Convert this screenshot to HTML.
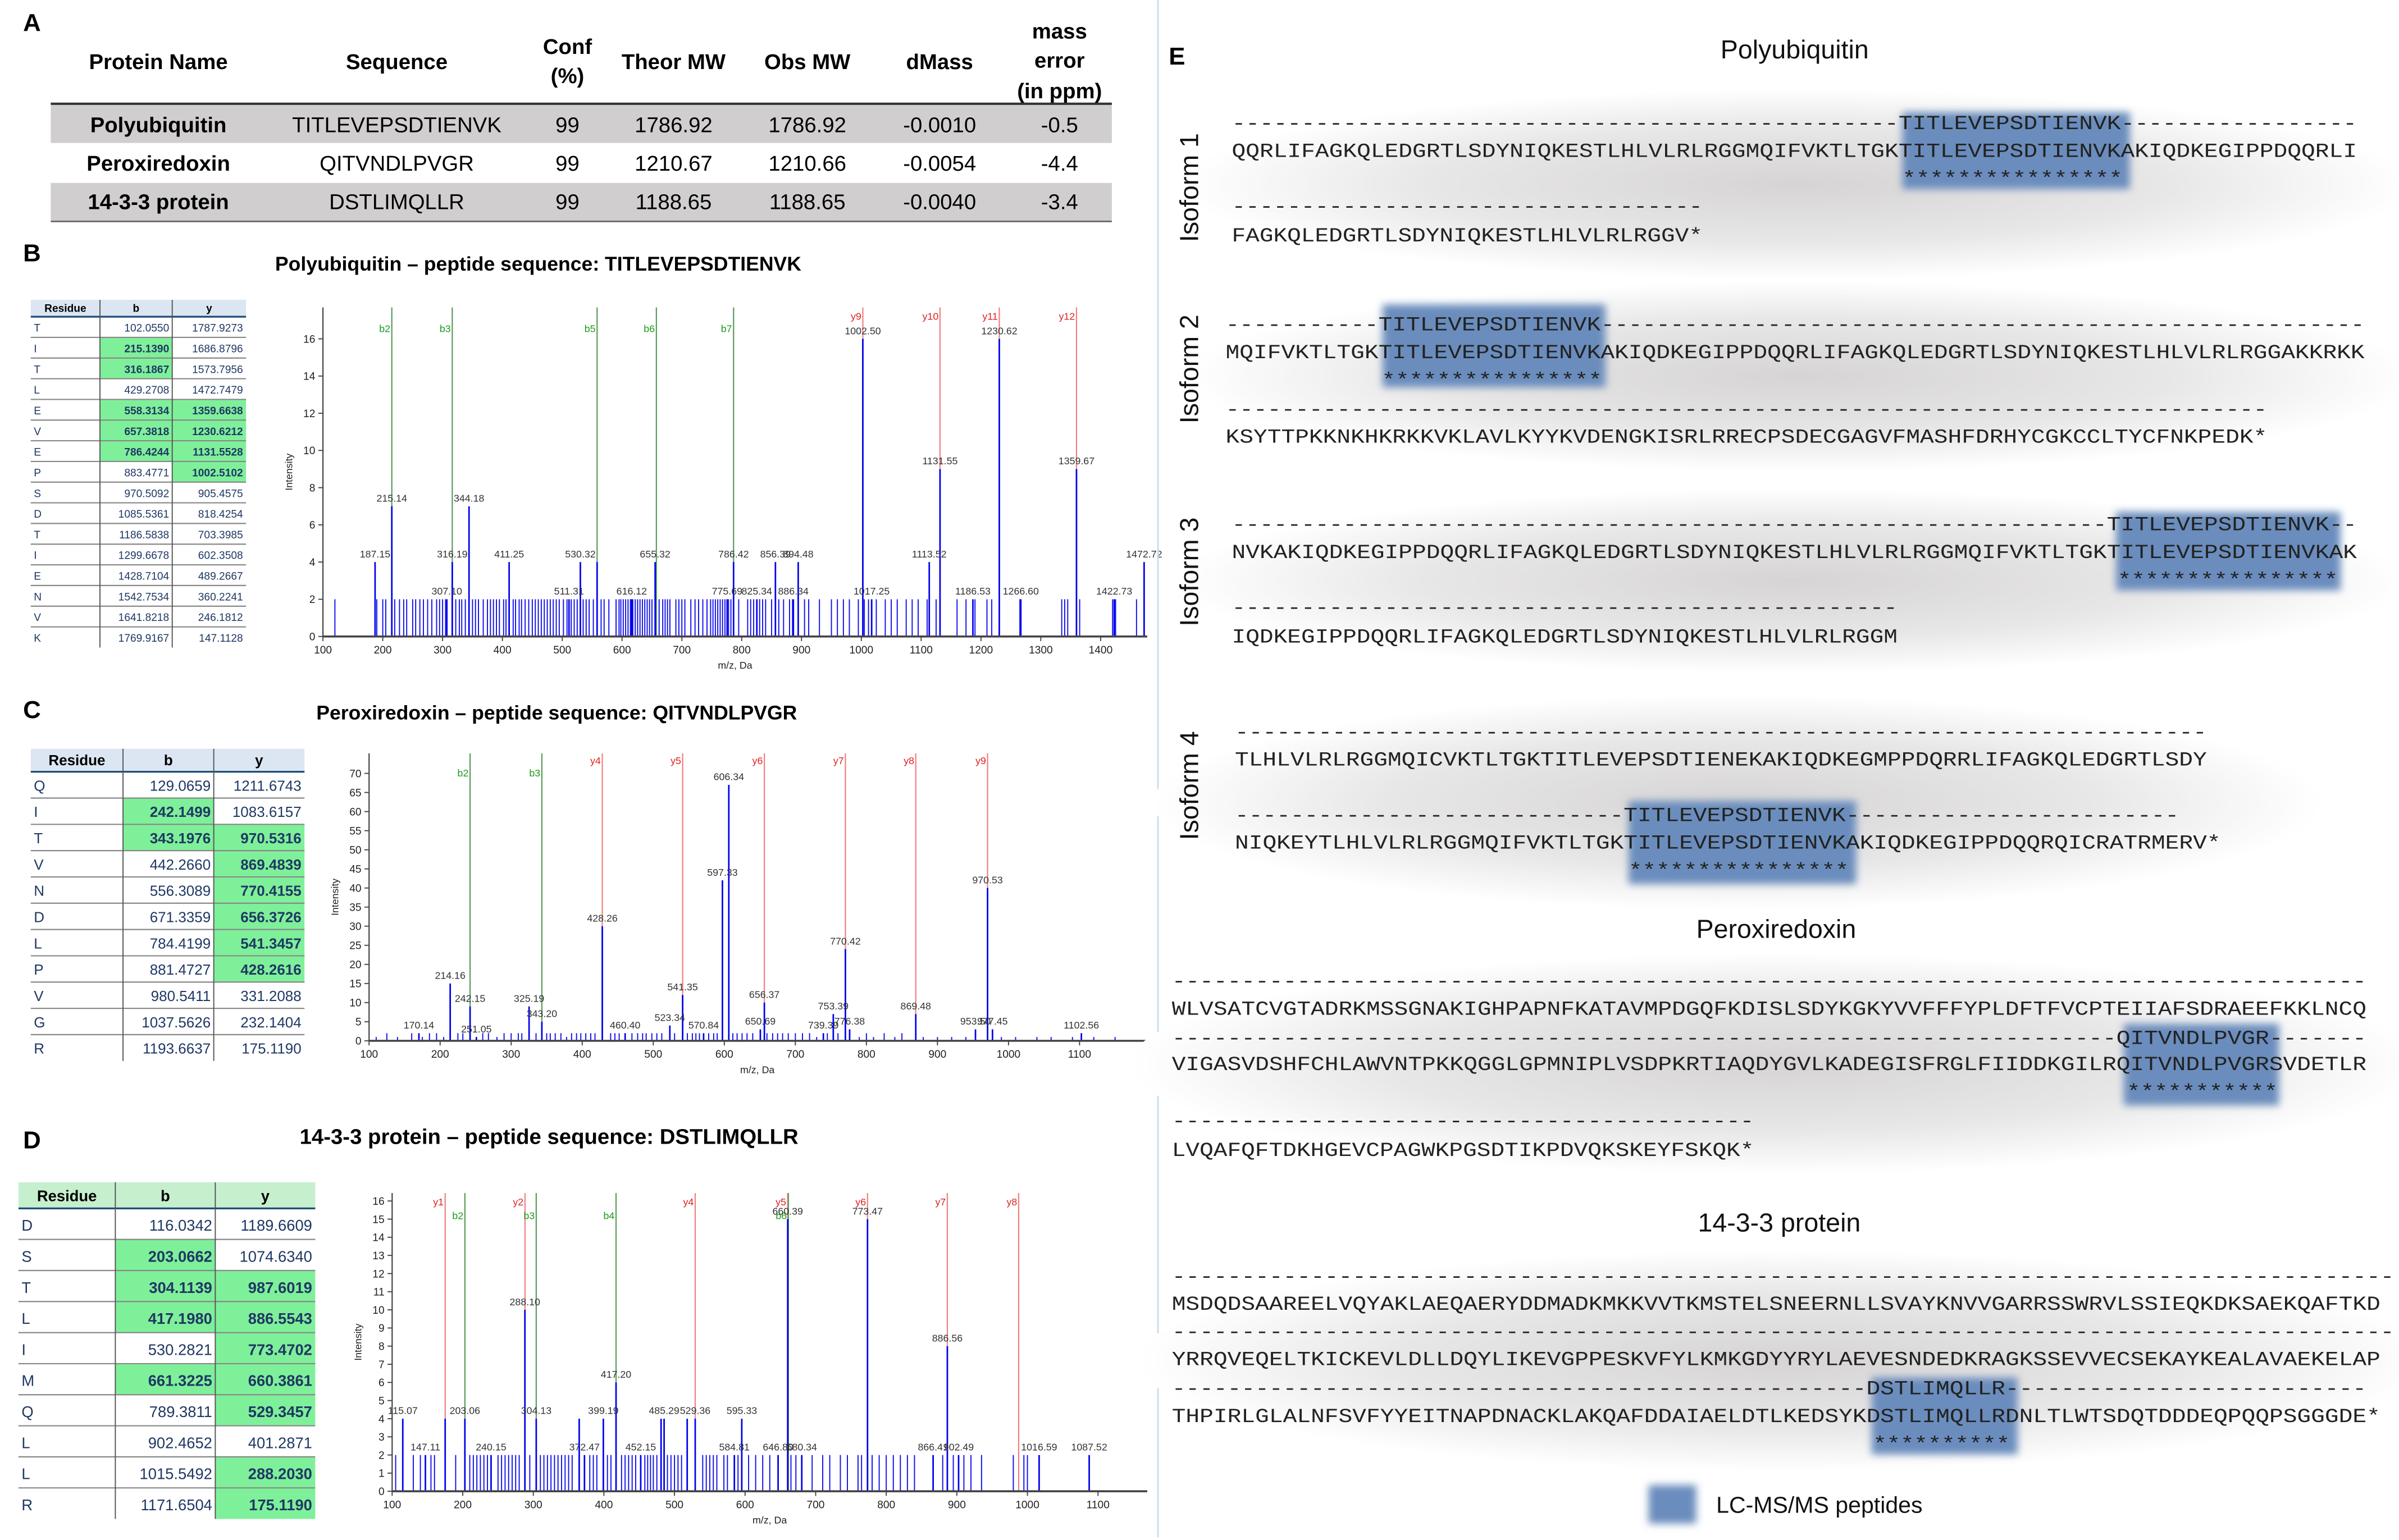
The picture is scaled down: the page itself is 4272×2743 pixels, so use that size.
<!DOCTYPE html>
<html><head><meta charset="utf-8"><style>
html,body{margin:0;padding:0;background:#fff;width:4272px;height:2743px;overflow:hidden}
svg{display:block}
.sans{font-family:"Liberation Sans",sans-serif}
.mono{font-family:"Liberation Mono",monospace;font-size:13px;fill:#222}
.tb{font-family:"Liberation Sans",sans-serif;fill:#1f3864}
</style></head><body>
<svg id="fig" width="4272" height="2743" viewBox="0 0 1560 1001.7" preserveAspectRatio="none" xmlns="http://www.w3.org/2000/svg">
<defs>
<radialGradient id="band" cx="0.5" cy="0.5" r="0.5"><stop offset="0" stop-color="#d6d4d4"/><stop offset="0.6" stop-color="#e8e7e7"/><stop offset="1" stop-color="#ffffff"/></radialGradient>
<filter id="blur" x="-20%" y="-20%" width="140%" height="140%"><feGaussianBlur stdDeviation="2.5"/></filter>
</defs>
<rect width="1560" height="1002" fill="#fff"/>

<g class="sans" font-size="14" text-anchor="middle">
<text x="15" y="20" font-weight="bold" font-size="16" text-anchor="start">A</text>
<g font-weight="bold">
<text x="103" y="45">Protein Name</text><text x="258" y="45">Sequence</text>
<text x="369" y="35">Conf</text><text x="369" y="54">(%)</text>
<text x="438" y="45">Theor MW</text><text x="525" y="45">Obs MW</text><text x="611" y="45">dMass</text>
<text x="689" y="25">mass</text><text x="689" y="44">error</text><text x="689" y="64">(in ppm)</text>
</g>
<rect x="33" y="68" width="690" height="25" fill="#d0cece"/>
<rect x="33" y="119" width="690" height="25" fill="#d0cece"/>
<line x1="33" y1="67.5" x2="723" y2="67.5" stroke="#333" stroke-width="1.5"/>
<line x1="33" y1="144" x2="723" y2="144" stroke="#666" stroke-width="1"/>
<g><text x="103" y="86" font-weight="bold">Polyubiquitin</text><text x="258" y="86">TITLEVEPSDTIENVK</text><text x="369" y="86">99</text><text x="438" y="86">1786.92</text><text x="525" y="86">1786.92</text><text x="611" y="86">-0.0010</text><text x="689" y="86">-0.5</text></g>
<g><text x="103" y="111" font-weight="bold">Peroxiredoxin</text><text x="258" y="111">QITVNDLPVGR</text><text x="369" y="111">99</text><text x="438" y="111">1210.67</text><text x="525" y="111">1210.66</text><text x="611" y="111">-0.0054</text><text x="689" y="111">-4.4</text></g>
<g><text x="103" y="136" font-weight="bold">14-3-3 protein</text><text x="258" y="136">DSTLIMQLLR</text><text x="369" y="136">99</text><text x="438" y="136">1188.65</text><text x="525" y="136">1188.65</text><text x="611" y="136">-0.0040</text><text x="689" y="136">-3.4</text></g>
</g>

<g class="sans" font-weight="bold">
<text x="15" y="170" font-size="16">B</text>
<text x="350" y="176" font-size="13" text-anchor="middle">Polyubiquitin – peptide sequence: TITLEVEPSDTIENVK</text>
<text x="15" y="467" font-size="16">C</text>
<text x="362" y="468" font-size="13" text-anchor="middle">Peroxiredoxin – peptide sequence: QITVNDLPVGR</text>
<text x="15" y="747" font-size="16">D</text>
<text x="357" y="744" font-size="14" text-anchor="middle">14-3-3 protein – peptide sequence: DSTLIMQLLR</text>
<text x="760" y="42" font-size="16">E</text>
</g>

<g id="tables"></g>
<g id="charts"></g>

<line x1="753" y1="0" x2="753" y2="1000" stroke="#c5dcef" stroke-width="1"/>

<g id="panelE">
<g>
<ellipse cx="1168" cy="120" rx="400" ry="62" fill="url(#band)"/>
<ellipse cx="1170" cy="245" rx="400" ry="62" fill="url(#band)"/>
<ellipse cx="1165" cy="378" rx="400" ry="60" fill="url(#band)"/>
<ellipse cx="1130" cy="522" rx="380" ry="70" fill="url(#band)"/>
<ellipse cx="1155" cy="692" rx="420" ry="72" fill="url(#band)"/>
<ellipse cx="1160" cy="885" rx="420" ry="72" fill="url(#band)"/>
</g>
<g filter="url(#blur)" fill="#6b8dbd">
<rect x="1237" y="73" width="148" height="50"/>
<rect x="899" y="198" width="145" height="54"/>
<rect x="1376" y="333" width="146" height="51"/>
<rect x="1059" y="521" width="148" height="54"/>
<rect x="1381" y="666" width="101" height="53"/>
<rect x="1217" y="896" width="95" height="50"/>
<rect x="1072" y="966" width="31" height="25"/>
</g>
<g class="sans" font-size="17" text-anchor="middle" fill="#111">
<text x="1167" y="38">Polyubiquitin</text>
<text x="1155" y="610">Peroxiredoxin</text>
<text x="1157" y="801">14-3-3 protein</text>
<text transform="translate(779,122) rotate(-90)">Isoform 1</text>
<text transform="translate(779,240) rotate(-90)">Isoform 2</text>
<text transform="translate(779,372) rotate(-90)">Isoform 3</text>
<text transform="translate(779,511) rotate(-90)">Isoform 4</text>
<text x="1116" y="984" font-size="15" text-anchor="start">LC-MS/MS peptides</text>
</g>
<g class="mono" id="seqs">
<text x="801" y="84" data-d1="48" data-d2="17">TITLEVEPSDTIENVK</text>
<text x="801" y="102">QQRLIFAGKQLEDGRTLSDYNIQKESTLHLVLRLRGGMQIFVKTLTGKTITLEVEPSDTIENVKAKIQDKEGIPPDQQRLI</text>
<text x="1237" y="120">****************</text>
<text x="801" y="138" data-d1="34">&#8203;</text>
<text x="801" y="157">FAGKQLEDGRTLSDYNIQKESTLHLVLRLRGGV*</text>
<text x="797" y="215" data-d1="11" data-d2="55">TITLEVEPSDTIENVK</text>
<text x="797" y="233">MQIFVKTLTGKTITLEVEPSDTIENVKAKIQDKEGIPPDQQRLIFAGKQLEDGRTLSDYNIQKESTLHLVLRLRGGAKKRKK</text>
<text x="898.5" y="251">****************</text>
<text x="797" y="270" data-d1="75">&#8203;</text>
<text x="797" y="288">KSYTTPKKNKHKRKKVKLAVLKYYKVDENGKISRLRRECPSDECGAGVFMASHFDRHYCGKCCLTYCFNKPEDK*</text>
<text x="801" y="345" data-d1="63" data-d2="2">TITLEVEPSDTIENVK</text>
<text x="801" y="363">NVKAKIQDKEGIPPDQQRLIFAGKQLEDGRTLSDYNIQKESTLHLVLRLRGGMQIFVKTLTGKTITLEVEPSDTIENVKAK</text>
<text x="1377" y="381">****************</text>
<text x="801" y="399" data-d1="48">&#8203;</text>
<text x="801" y="418">IQDKEGIPPDQQRLIFAGKQLEDGRTLSDYNIQKESTLHLVLRLRGGM</text>
<text x="803" y="480" data-d1="70">&#8203;</text>
<text x="803" y="498">TLHLVLRLRGGMQICVKTLTGKTITLEVEPSDTIENEKAKIQDKEGMPPDQRRLIFAGKQLEDGRTLSDY</text>
<text x="803" y="534" data-d1="28" data-d2="24">TITLEVEPSDTIENVK</text>
<text x="803" y="552">NIQKEYTLHLVLRLRGGMQIFVKTLTGKTITLEVEPSDTIENVKAKIQDKEGIPPDQQRQICRATRMERV*</text>
<text x="1059" y="570">****************</text>
<text x="762" y="642" data-d1="86">&#8203;</text>
<text x="762" y="660">WLVSATCVGTADRKMSSGNAKIGHPAPNFKATAVMPDGQFKDISLSDYKGKYVVFFFYPLDFTFVCPTEIIAFSDRAEEFKKLNCQ</text>
<text x="762" y="679" data-d1="68" data-d2="7">QITVNDLPVGR</text>
<text x="762" y="696">VIGASVDSHFCHLAWVNTPKKQGGLGPMNIPLVSDPKRTIAQDYGVLKADEGISFRGLFIIDDKGILRQITVNDLPVGRSVDETLR</text>
<text x="1383" y="714">***********</text>
<text x="762" y="733" data-d1="42">&#8203;</text>
<text x="762" y="752">LVQAFQFTDKHGEVCPAGWKPGSDTIKPDVQKSKEYFSKQK*</text>
<text x="762" y="834" data-d1="88">&#8203;</text>
<text x="762" y="852">MSDQDSAAREELVQYAKLAEQAERYDDMADKMKKVVTKMSTELSNEERNLLSVAYKNVVGARRSSWRVLSSIEQKDKSAEKQAFTKD</text>
<text x="762" y="870" data-d1="88">&#8203;</text>
<text x="762" y="888">YRRQVEQELTKICKEVLDLLDQYLIKEVGPPESKVFYLKMKGDYYRYLAEVESNDEDKRAGKSSEVVECSEKAYKEALAVAEKELAP</text>
<text x="762" y="907" data-d1="50" data-d2="26">DSTLIMQLLR</text>
<text x="762" y="925">THPIRLGLALNFSVFYYEITNAPDNACKLAKQAFDDAIAELDTLKEDSYKDSTLIMQLLRDNLTLWTSDQTDDDEQPQQPSGGGDE*</text>
<text x="1218" y="943">**********</text>
</g>
</g>
</svg>

<script>
var bPeakMz  = [1002.50,1230.62,1131.55,1359.67,215.14,344.18,187.15,316.19,411.25,530.32,558.3,655.32,786.42,856.39,894.48,1113.52,1472.72,307.10,511.31,616.12,775.69,825.34,886.34,1017.25,1186.53,1266.60,1422.73];
var bPeakInt = [16,16,9,9,7,7,4,4,4,4,4,4,4,4,4,4,4,2,2,2,2,2,2,2,2,2,2];
var bLabeled = [1,1,1,1,1,1,1,1,1,1,0,1,1,1,1,1,1,1,1,1,1,1,1,1,1,1,1];
var bNoiseMz = [120,190,200,205,220,228,235,240,250,255,262,268,275,282,290,295,300,305,322,328,332,338,350,355,360,368,375,380,385,390,395,402,406,418,422,428,432,438,444,450,455,460,465,470,475,480,485,490,495,502,508,515,520,525,535,540,545,552,565,570,578,590,595,598,602,606,610,614,618,622,626,630,634,638,642,646,650,662,668,672,676,680,690,695,700,705,715,722,728,735,742,748,752,756,760,764,768,772,778,782,795,810,815,820,830,835,840,850,862,870,880,885,905,912,930,950,960,970,980,995,1005,1012,1025,1040,1050,1060,1075,1085,1095,1110,1125,1160,1175,1190,1210,1218,1265,1335,1340,1345,1365,1420,1425,1460];
var bNoiseInt = 2;
var bIonName = ["b2","b3","b5","b6","b7","y9","y10","y11","y12"];
var bIonMz   = [215.14,316.19,558.31,657.38,786.42,1002.51,1131.55,1230.62,1359.66];
var bXTicks  = [100,200,300,400,500,600,700,800,900,1000,1100,1200,1300,1400];
var bYTicks  = [0,2,4,6,8,10,12,14,16];

var cPeakMz  = [606.34,597.33,970.53,428.26,770.42,214.16,242.15,325.19,343.20,541.35,656.37,753.39,869.48,523.34,570.84,460.40,170.14,251.05,650.69,739.39,776.38,953.50,977.45,1102.56];
var cPeakInt = [67,42,40,30,24,15,9,9,5,12,10,7,7,4,2,2,2,1,3,2,3,3,3,2];
var cNoiseMz = [110,125,140,160,175,185,195,205,225,232,260,268,280,290,300,310,315,335,350,355,362,370,378,385,392,398,405,412,418,440,446,452,470,478,485,490,498,505,512,530,548,555,560,565,578,585,590,612,618,625,632,640,660,668,675,682,690,700,710,720,730,745,760,790,800,810,825,840,850,880,900,920,940,990,1010,1040,1060,1090,1120,1150];
var cNoiseInt= [1,2,1,2,1,2,2,1,2,2,2,2,1,2,2,2,2,2,2,2,2,2,1,2,2,2,2,2,2,2,2,2,2,2,2,2,2,2,2,2,2,2,2,2,2,2,2,2,2,2,2,2,2,2,2,2,2,2,2,2,1,2,2,1,2,1,2,1,2,1,1,1,1,1,1,1,1,1,1,1];
var cIonName = ["b2","b3","y4","y5","y6","y7","y8","y9"];
var cIonMz   = [242.15,343.20,428.26,541.35,656.37,770.42,869.48,970.53];
var cXTicks  = [100,200,300,400,500,600,700,800,900,1000,1100];
var cYTicks  = [0,5,10,15,20,25,30,35,40,45,50,55,60,65,70];

var dPeakMz  = [660.39,773.47,288.10,886.56,417.20,485.29,529.36,595.33,399.19,304.13,372.47,115.07,203.06,147.11,240.15,452.15,584.81,646.80,680.34,866.41,902.49,1016.59,1087.52,175.12,518.0,481.0,365.0];
var dPeakInt = [15,15,10,8,6,4,4,4,4,4,2,4,4,2,2,2,2,2,2,2,2,2,2,4,4,4,4];
var dLabeled = [1,1,1,1,1,1,1,1,1,1,1,1,1,1,1,1,1,1,1,1,1,1,1,0,0,0,0];
var dNoiseMz = [105,130,140,155,160,190,210,215,220,225,230,235,250,255,260,265,270,275,280,295,310,315,320,325,330,335,340,345,350,355,380,385,390,405,410,425,430,435,440,445,458,462,466,470,475,490,495,500,505,510,540,545,550,555,560,570,575,590,605,615,625,635,665,672,695,710,720,735,745,760,765,780,790,800,810,820,830,840,880,895,910,920,935,980,995,1000];
var dNoiseInt = 2;
var dIonName = ["y1","b2","y2","b3","b4","y4","y5","b6","y6","y7","y8"];
var dIonMz   = [175.12,203.06,288.20,304.11,417.20,529.35,660.39,661.32,773.47,886.55,987.60];
var dXTicks  = [100,200,300,400,500,600,700,800,900,1000,1100];
var dYTicks  = [0,1,2,3,4,5,6,7,8,9,10,11,12,13,14,15,16];

var tbRes = ["T","I","T","L","E","V","E","P","S","D","T","I","E","N","V","K"];
var tbB = ["102.0550","215.1390","316.1867","429.2708","558.3134","657.3818","786.4244","883.4771","970.5092","1085.5361","1186.5838","1299.6678","1428.7104","1542.7534","1641.8218","1769.9167"];
var tbY = ["1787.9273","1686.8796","1573.7956","1472.7479","1359.6638","1230.6212","1131.5528","1002.5102","905.4575","818.4254","703.3985","602.3508","489.2667","360.2241","246.1812","147.1128"];
var tbBg = [0,1,1,0,1,1,1,0,0,0,0,0,0,0,0,0];
var tbYg = [0,0,0,0,1,1,1,1,0,0,0,0,0,0,0,0];
var tcRes = ["Q","I","T","V","N","D","L","P","V","G","R"];
var tcB = ["129.0659","242.1499","343.1976","442.2660","556.3089","671.3359","784.4199","881.4727","980.5411","1037.5626","1193.6637"];
var tcY = ["1211.6743","1083.6157","970.5316","869.4839","770.4155","656.3726","541.3457","428.2616","331.2088","232.1404","175.1190"];
var tcBg = [0,1,1,0,0,0,0,0,0,0,0];
var tcYg = [0,0,1,1,1,1,1,1,0,0,0];
var tdRes = ["D","S","T","L","I","M","Q","L","L","R"];
var tdB = ["116.0342","203.0662","304.1139","417.1980","530.2821","661.3225","789.3811","902.4652","1015.5492","1171.6504"];
var tdY = ["1189.6609","1074.6340","987.6019","886.5543","773.4702","660.3861","529.3457","401.2871","288.2030","175.1190"];
var tdBg = [0,1,1,1,0,1,0,0,0,0];
var tdYg = [0,0,1,1,1,1,1,0,1,1];

var NS = "http://www.w3.org/2000/svg";
function mk(tag, attrs, parent){ var e=document.createElementNS(NS,tag); for(var k in attrs) e.setAttribute(k,attrs[k]); parent.appendChild(e); return e; }

function drawTable(res,bv,yv,bg,yg,x0,cw,y0,hh,rh,fs,name,hdrFill){
  var g=mk("g",{},document.getElementById("tables"));
  
  
  var W=cw[0]+cw[1]+cw[2];
  mk("rect",{x:x0,y:y0,width:W,height:hh,fill:hdrFill},g);
  var hdr=["Residue","b","y"], cx=x0;
  for(var i=0;i<3;i++){
    var t=mk("text",{x:cx+cw[i]/2,y:y0+hh*0.72,"font-size":fs,"font-weight":"bold","text-anchor":"middle","class":"sans",fill:"#000"},g);
    t.textContent=hdr[i];
    
    
    cx+=cw[i];
  }
  mk("line",{x1:x0,y1:y0+hh,x2:x0+W,y2:y0+hh,stroke:"#1f4e79","stroke-width":1.2},g);
  for(var r=0;r<res.length;r++){
    var ry=y0+hh+r*rh;
    if(bg[r]) mk("rect",{x:x0+cw[0],y:ry,width:cw[1],height:rh,fill:"#7ff09a"},g);
    if(yg[r]) mk("rect",{x:x0+cw[0]+cw[1],y:ry,width:cw[2],height:rh,fill:"#7ff09a"},g);
    if(r>0) mk("line",{x1:x0,y1:ry,x2:x0+W,y2:ry,stroke:"#888","stroke-width":0.8},g);
    var ty=ry+rh*0.72;
    var t1=mk("text",{x:x0+2,y:ty,"font-size":fs,"class":"tb"},g); t1.textContent=res[r];
    
    
    var t2=mk("text",{x:x0+cw[0]+cw[1]-2,y:ty,"font-size":fs,"class":"tb","text-anchor":"end","font-weight":bg[r]?"bold":"normal"},g); t2.textContent=bv[r];
    
    
    var t3=mk("text",{x:x0+W-2,y:ty,"font-size":fs,"class":"tb","text-anchor":"end","font-weight":yg[r]?"bold":"normal"},g); t3.textContent=yv[r];
    
    
  }
  var yb=y0+hh+res.length*rh;
  mk("line",{x1:x0+cw[0],y1:y0,x2:x0+cw[0],y2:yb,stroke:"#555","stroke-width":0.7},g);
  mk("line",{x1:x0+cw[0]+cw[1],y1:y0,x2:x0+cw[0]+cw[1],y2:yb,stroke:"#555","stroke-width":0.7},g);
}
drawTable(tbRes,tbB,tbY,tbBg,tbYg,20,[45,47,48],195,11,13.45,7,"fragment-table-b","#dce6f2");
drawTable(tcRes,tcB,tcY,tcBg,tcYg,20,[60,59,59],487,15,17.1,9.5,"fragment-table-c","#dce6f2");
drawTable(tdRes,tdB,tdY,tdBg,tdYg,12,[63,65,65],769,17,20.2,10,"fragment-table-d","#c6efce");

function drawChart(o){
  var g=mk("g",{},document.getElementById("charts"));
  
  
  function X(m){ return o.x0+(m-100)*o.sx; }
  function Y(v){ return o.y0-v*o.sy; }
  for(var i=0;i<o.ionMz.length;i++){
    var isB=o.ionName[i][0]==="b";
    var ln=mk("line",{x1:X(o.ionMz[i]),x2:X(o.ionMz[i]),y1:o.top,y2:o.y0,stroke:isB?"#5a9a5a":"#f08080","stroke-width":0.8},g);
    
    
    var t=mk("text",{x:X(o.ionMz[i])-1,y:o.top+(isB?o.bOff:o.yOff),"font-size":o.fs,"text-anchor":"end","class":"sans",fill:isB?"#1a9a1a":"#e02020"},g);
    t.textContent=o.ionName[i];
    
    
  }
  for(var j=0;j<o.noiseMz.length;j++){
    var v=(typeof o.noiseInt==="number")?o.noiseInt:o.noiseInt[j];
    var p=mk("line",{x1:X(o.noiseMz[j]),x2:X(o.noiseMz[j]),y1:Y(v),y2:o.y0,stroke:"#1010ee","stroke-width":0.7},g);
    
    
  }
  for(var k=0;k<o.peakMz.length;k++){
    var px=X(o.peakMz[k]), py=Y(o.peakInt[k]);
    var pk=mk("line",{x1:px,x2:px,y1:py,y2:o.y0,stroke:"#0000ee","stroke-width":1},g);
    
    
    if(!o.labeled || o.labeled[k]){
      var lt=mk("text",{x:px,y:py-3,"font-size":o.fs,"text-anchor":"middle","class":"sans",fill:"#333"},g);
      lt.textContent=o.peakMz[k].toFixed(2);
      
      
    }
  }
  mk("line",{x1:o.x0,y1:o.y0,x2:o.xEnd,y2:o.y0,stroke:"#444","stroke-width":1.3},g);
  mk("line",{x1:o.x0,y1:o.y0,x2:o.x0,y2:o.top,stroke:"#444","stroke-width":0.8},g);
  for(var a=0;a<o.xTicks.length;a++){
    var tx=X(o.xTicks[a]);
    mk("line",{x1:tx,x2:tx,y1:o.y0,y2:o.y0+3,stroke:"#444","stroke-width":0.7},g);
    var xl=mk("text",{x:tx,y:o.y0+11,"font-size":o.fs+0.5,"text-anchor":"middle","class":"sans",fill:"#222"},g);
    xl.textContent=o.xTicks[a];
    
    
  }
  for(var b=0;b<o.yTicks.length;b++){
    var ty=Y(o.yTicks[b]);
    mk("line",{x1:o.x0-3,x2:o.x0,y1:ty,y2:ty,stroke:"#444","stroke-width":0.7},g);
    var yl=mk("text",{x:o.x0-5,y:ty+2.5,"font-size":o.fs+0.5,"text-anchor":"end","class":"sans",fill:"#222"},g);
    yl.textContent=o.yTicks[b];
    
    
  }
  var xt=mk("text",{x:(o.x0+o.xEnd)/2,y:o.y0+21,"font-size":o.fs,"text-anchor":"middle","class":"sans",fill:"#222"},g);
  xt.textContent="m/z, Da";
  
  
  var yt=mk("text",{transform:"translate("+(o.x0-20)+","+((o.y0+o.top)/2)+") rotate(-90)","font-size":o.fs,"text-anchor":"middle","class":"sans",fill:"#222"},g);
  yt.textContent="Intensity";
  
  
}
drawChart({name:"spectrum-chart-b",x0:210,sx:0.389,y0:414,sy:12.1,top:200,xEnd:746,fs:6.5,bOff:16,yOff:8,
  peakMz:bPeakMz,peakInt:bPeakInt,labeled:bLabeled,noiseMz:bNoiseMz,noiseInt:bNoiseInt,ionName:bIonName,ionMz:bIonMz,xTicks:bXTicks,yTicks:bYTicks});
drawChart({name:"spectrum-chart-c",x0:240,sx:0.462,y0:677,sy:2.485,top:490,xEnd:745,fs:6.5,bOff:15,yOff:7,
  peakMz:cPeakMz,peakInt:cPeakInt,labeled:null,noiseMz:cNoiseMz,noiseInt:cNoiseInt,ionName:cIonName,ionMz:cIonMz,xTicks:cXTicks,yTicks:cYTicks});
drawChart({name:"spectrum-chart-d",x0:255,sx:0.459,y0:970,sy:11.8,top:776,xEnd:746,fs:6.5,bOff:17,yOff:8,
  peakMz:dPeakMz,peakInt:dPeakInt,labeled:dLabeled,noiseMz:dNoiseMz,noiseInt:dNoiseInt,ionName:dIonName,ionMz:dIonMz,xTicks:dXTicks,yTicks:dYTicks});

var CW=9.05;
var seqs=document.querySelectorAll("#seqs text");
for(var s=0;s<seqs.length;s++){
  var el=seqs[s];
  
  
  var d1=parseInt(el.getAttribute("data-d1")||"0"), d2=parseInt(el.getAttribute("data-d2")||"0");
  var core=el.textContent.replace(/\u200b/g,"");
  if(el.hasAttribute("data-d1")) el.textContent="-".repeat(d1)+core+"-".repeat(d2);
  var n=el.textContent.length;
  el.setAttribute("textLength",(n*CW-1.5).toFixed(1));
  el.setAttribute("lengthAdjust","spacingAndGlyphs");
}
</script>
</body></html>
